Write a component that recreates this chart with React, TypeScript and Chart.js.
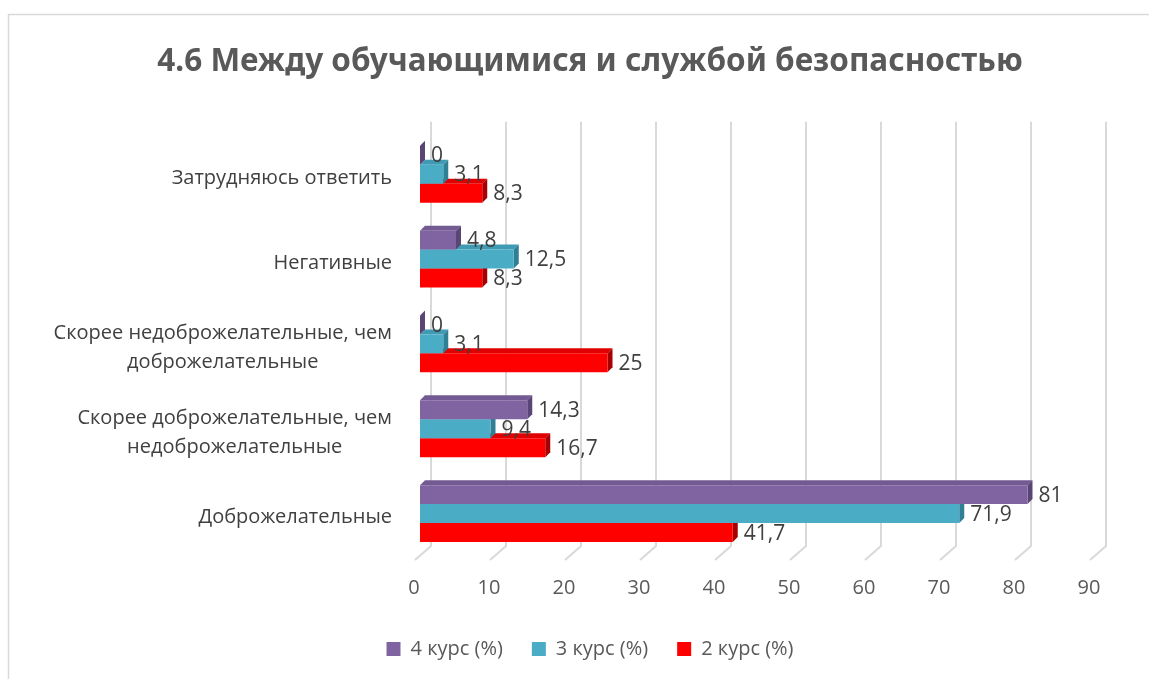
import React, { useEffect, useRef } from "react";
import { Chart, registerables } from "chart.js";
Chart.register(...registerables);

const categories: (string | string[])[] = [
  "Затрудняюсь ответить",
  "Негативные",
  ["Скорее недоброжелательные, чем", "доброжелательные"],
  ["Скорее доброжелательные, чем", "недоброжелательные"],
  "Доброжелательные",
];
const seriesNames = ["4 курс (%)", "3 курс (%)", "2 курс (%)"];
const course4 = [0, 4.8, 0, 14.3, 81];
const course3 = [3.1, 12.5, 3.1, 9.4, 71.9];
const course2 = [8.3, 8.3, 25, 16.7, 41.7];
const xTicks = [0, 10, 20, 30, 40, 50, 60, 70, 80, 90];
const titleText = "4.6 Между обучающимися и службой безопасностью";

const frontColors = ["#8064A2", "#4BACC6", "#FF0000"];
const topColors = ["#735a93", "#3f9bb4", "#e00000"];
const sideColors = ["#5a4676", "#2f7f95", "#a80000"];

const FONT = "'Open Sans', 'DejaVu Sans', sans-serif";
const TITLE_FONT = "'Noto Sans', 'Open Sans', sans-serif";

const framePlugin = {
  id: "frame",
  beforeDraw(chart: any) {
    const ctx = chart.ctx;
    ctx.save();
    ctx.fillStyle = "#ffffff";
    ctx.fillRect(0, 0, chart.width, chart.height);
    ctx.strokeStyle = "#d9d9d9";
    ctx.lineWidth = 1.5;
    ctx.strokeRect(8.5, 14.5, chart.width + 20, chart.height + 20);
    ctx.restore();
  },
};

const gridPlugin = {
  id: "grid3d",
  beforeDatasetsDraw(chart: any) {
    const ctx = chart.ctx;
    const xs = chart.scales.x;
    const area = chart.chartArea;
    ctx.save();
    ctx.strokeStyle = "#d9d9d9";
    ctx.lineWidth = 2;
    xTicks.forEach((v) => {
      const x = xs.getPixelForValue(v);
      ctx.beginPath();
      ctx.moveTo(x + 11, area.top - 10);
      ctx.lineTo(x + 11, area.bottom - 10);
      ctx.lineTo(x - 5, area.bottom + 4);
      ctx.stroke();
    });
    ctx.restore();
  },
};

const facesPlugin = {
  id: "faces3d",
  beforeDatasetDraw(chart: any, args: any) {
    const ctx = chart.ctx;
    const i = args.index;
    const d = 5;
    ctx.save();
    args.meta.data.forEach((bar: any) => {
      const { x, y, base, height } = bar.getProps(["x", "y", "base", "height"], true);
      const top = y - height / 2;
      const bottom = y + height / 2;
      ctx.fillStyle = topColors[i];
      ctx.beginPath();
      ctx.moveTo(base, top);
      ctx.lineTo(base + d, top - d);
      ctx.lineTo(x + d, top - d);
      ctx.lineTo(x, top);
      ctx.closePath();
      ctx.fill();
      ctx.fillStyle = sideColors[i];
      ctx.beginPath();
      ctx.moveTo(x, top);
      ctx.lineTo(x + d, top - d);
      ctx.lineTo(x + d, bottom - d);
      ctx.lineTo(x, bottom);
      ctx.closePath();
      ctx.fill();
    });
    ctx.restore();
  },
};

const labelsPlugin = {
  id: "labels",
  afterDatasetsDraw(chart: any) {
    const ctx = chart.ctx;
    ctx.save();
    ctx.font = `21px ${FONT}`;
    ctx.fillStyle = "#404040";
    ctx.textBaseline = "middle";
    ctx.textAlign = "left";
    chart.data.datasets.forEach((ds: any, di: number) => {
      const meta = chart.getDatasetMeta(di);
      meta.data.forEach((bar: any, j: number) => {
        const v = ds.data[j];
        ctx.fillText(String(v).replace(".", ","), bar.x + 11, bar.y + 1);
      });
    });
    // category labels
    const ys = chart.scales.y;
    ctx.font = `20px ${FONT}`;
    ctx.fillStyle = "#404040";
    ctx.textAlign = "center";
    const right = 392;
    const lh = 29;
    categories.forEach((c, idx) => {
      const lines = Array.isArray(c) ? c : [c];
      const w = Math.max(...lines.map((l) => ctx.measureText(l).width));
      const cx = right - w / 2;
      const cy = ys.getPixelForValue(idx) + 4;
      lines.forEach((l, k) => {
        ctx.fillText(l, cx, cy + (k - (lines.length - 1) / 2) * lh);
      });
    });
    ctx.restore();
  },
};

export default function App() {
  const ref = useRef<HTMLCanvasElement>(null);
  useEffect(() => {
    const data = [course4, course3, course2];
    const chart = new Chart(ref.current!, {
      type: "bar",
      data: {
        labels: categories as any,
        datasets: seriesNames.map((n, i) => ({
          label: n,
          data: data[i],
          backgroundColor: frontColors[i],
          borderWidth: 0,
          categoryPercentage: 0.67,
          barPercentage: 1,
        })),
      },
      options: {
        indexAxis: "y",
        animation: false,
        responsive: false,
        maintainAspectRatio: false,
        layout: { padding: { left: 0, right: 0, top: 0, bottom: 10 } },
        scales: {
          x: {
            min: 0,
            max: 90,
            afterBuildTicks: (s: any) => {
              s.ticks = xTicks.map((v) => ({ value: v }));
            },
            afterFit: (s: any) => {
              s.height = 54;
            },
            grid: { display: false },
            border: { display: false },
            ticks: {
              padding: 12,
              labelOffset: -6,
              color: "#595959",
              font: { size: 20, family: FONT },
            },
          },
          y: {
            display: true,
            grid: { display: false },
            border: { display: false },
            ticks: { display: false },
            afterFit: (s: any) => {
              s.width = 420;
            },
          },
          yRight: {
            type: "linear",
            axis: "y",
            position: "right",
            display: true,
            grid: { display: false },
            border: { display: false },
            ticks: { display: false },
            afterFit: (s: any) => {
              s.width = 85;
            },
          },
        },
        plugins: {
          title: {
            display: true,
            text: titleText,
            color: "#595959",
            font: { size: 31.5, weight: "bold", family: TITLE_FONT },
            padding: { top: 43, bottom: 51 },
          },
          legend: {
            position: "bottom",
            labels: {
              boxWidth: 14,
              boxHeight: 14,
              padding: 29,
              color: "#595959",
              font: { size: 20, family: FONT },
            },
          },
          tooltip: { enabled: false },
        },
      },
      plugins: [framePlugin, gridPlugin, facesPlugin, labelsPlugin],
    });
    return () => chart.destroy();
  }, []);
  return (
    <div
      style={{
        position: "fixed",
        left: 0,
        top: 0,
        width: 1149,
        height: 679,
        overflow: "hidden",
        background: "#fff",
      }}
    >
      <canvas ref={ref} width={1180} height={679} style={{ display: "block" }} />
    </div>
  );
}
